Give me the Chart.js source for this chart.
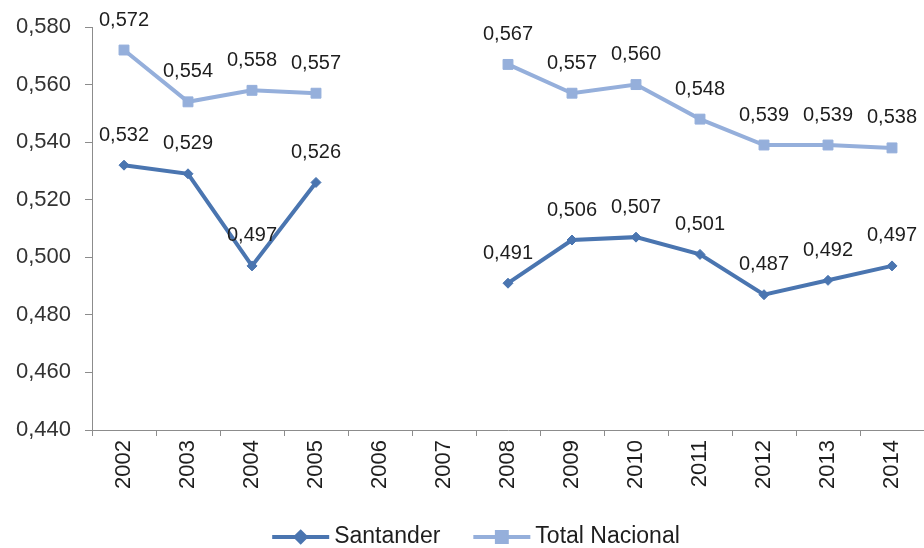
<!DOCTYPE html>
<html>
<head>
<meta charset="utf-8">
<script src="https://cdn.jsdelivr.net/npm/chart.js@4.4.1/dist/chart.umd.min.js"></script>
<style>
html, body { margin: 0; padding: 0; background: #fff; overflow: hidden; }
canvas { display: block; }
</style>
</head>
<body>
<canvas id="chart" width="924" height="548"></canvas>
<script>
// data //
const years = ['2002', '2003', '2004', '2005', '2006', '2007', '2008', '2009', '2010', '2011', '2012', '2013', '2014'];
const santander = [0.532, 0.529, 0.497, 0.526, null, null, 0.491, 0.506, 0.507, 0.501, 0.487, 0.492, 0.497];
const totalNacional = [0.572, 0.554, 0.558, 0.557, null, null, 0.567, 0.557, 0.560, 0.548, 0.539, 0.539, 0.538];
const yMin = 0.44, yMax = 0.58, yStep = 0.02;

const darkBlue = '#4a75b0';
const lightBlue = '#95afdb';
const axisGray = '#8c8c8c';
const textColor = '#1e1e1e';
const fontName = '"Liberation Sans", Arial, sans-serif';

const fmt = v => v.toFixed(3).replace('.', ',');

// value labels above points //
const valueLabels = {
  id: 'valueLabels',
  afterDatasetsDraw(chart) {
    const ctx = chart.ctx;
    ctx.save();
    ctx.font = '20px ' + fontName;
    ctx.fillStyle = textColor;
    ctx.textAlign = 'center';
    ctx.textBaseline = 'middle';
    chart.data.datasets.forEach((ds, i) => {
      chart.getDatasetMeta(i).data.forEach((pt, j) => {
        const v = ds.data[j];
        if (v == null) return;
        ctx.fillText(fmt(v), pt.x, pt.y - 30);
      });
    });
    ctx.restore();
  }
};

// legend drawn by hand (line + marker) //
const lineLegend = {
  id: 'lineLegend',
  afterDraw(chart) {
    const ctx = chart.ctx;
    const y = 537, lineW = 57, gap = 5, between = 33;
    ctx.save();
    ctx.font = '23px ' + fontName;
    const items = chart.data.datasets.map(ds => ({ ds, w: ctx.measureText(ds.label).width }));
    let total = 0;
    items.forEach((it, i) => { total += lineW + gap + it.w + (i ? between : 0); });
    let x = 476 - total / 2;
    items.forEach(it => {
      ctx.strokeStyle = it.ds.borderColor;
      ctx.lineWidth = it.ds.borderWidth;
      ctx.beginPath();
      ctx.moveTo(x, y);
      ctx.lineTo(x + lineW, y);
      ctx.stroke();
      Chart.helpers.drawPoint(ctx, {
        pointStyle: it.ds.pointStyle,
        radius: it.ds.pointRadius,
        borderWidth: 1
      }, x + lineW / 2, y);
      ctx.fillStyle = it.ds.borderColor;
      ctx.fill();
      ctx.fillStyle = textColor;
      ctx.textAlign = 'left';
      ctx.textBaseline = 'middle';
      ctx.fillText(it.ds.label, x + lineW + gap, y);
      x += lineW + gap + it.w + between;
    });
    ctx.restore();
  }
};

const ctx = document.getElementById('chart');
new Chart(ctx, {
  type: 'line',
  data: {
    labels: years,
    datasets: [{
      label: 'Santander',
      data: santander,
      borderColor: darkBlue,
      backgroundColor: darkBlue,
      borderWidth: 4,
      pointStyle: 'rectRot',
      pointRadius: 5,
      pointBorderWidth: 1,
      tension: 0
    }, {
      label: 'Total Nacional',
      data: totalNacional,
      borderColor: lightBlue,
      backgroundColor: lightBlue,
      borderWidth: 4,
      pointStyle: 'rect',
      pointRadius: 7,
      pointBorderWidth: 1,
      tension: 0
    }]
  },
  options: {
    responsive: false,
    animation: false,
    layout: { autoPadding: false, padding: { top: 27, right: 0, bottom: 48, left: 0 } },
    plugins: {
      legend: { display: false },
      tooltip: { enabled: false }
    },
    scales: {
      x: {
        offset: true,
        grid: { offset: true, drawOnChartArea: false, color: axisGray, tickLength: 6 },
        border: { color: axisGray },
        ticks: {
          minRotation: 90, maxRotation: 90, padding: 4,
          color: textColor,
          font: { family: fontName, size: 22 }
        },
        afterFit(scale) {
          scale.height = 70;
          scale.paddingLeft = 0;
          scale.paddingRight = 0;
        }
      },
      y: {
        min: yMin, max: yMax,
        grid: { drawOnChartArea: false, color: axisGray, tickLength: 7 },
        border: { color: axisGray },
        ticks: {
          stepSize: yStep, padding: 14,
          color: '#333333',
          font: { family: fontName, size: 22 },
          callback: v => fmt(v)
        },
        afterFit(scale) {
          scale.width = 92;
          scale.paddingTop = 0;
          scale.paddingBottom = 0;
        }
      }
    }
  },
  plugins: [valueLabels, lineLegend]
});
</script>
</body>
</html>
